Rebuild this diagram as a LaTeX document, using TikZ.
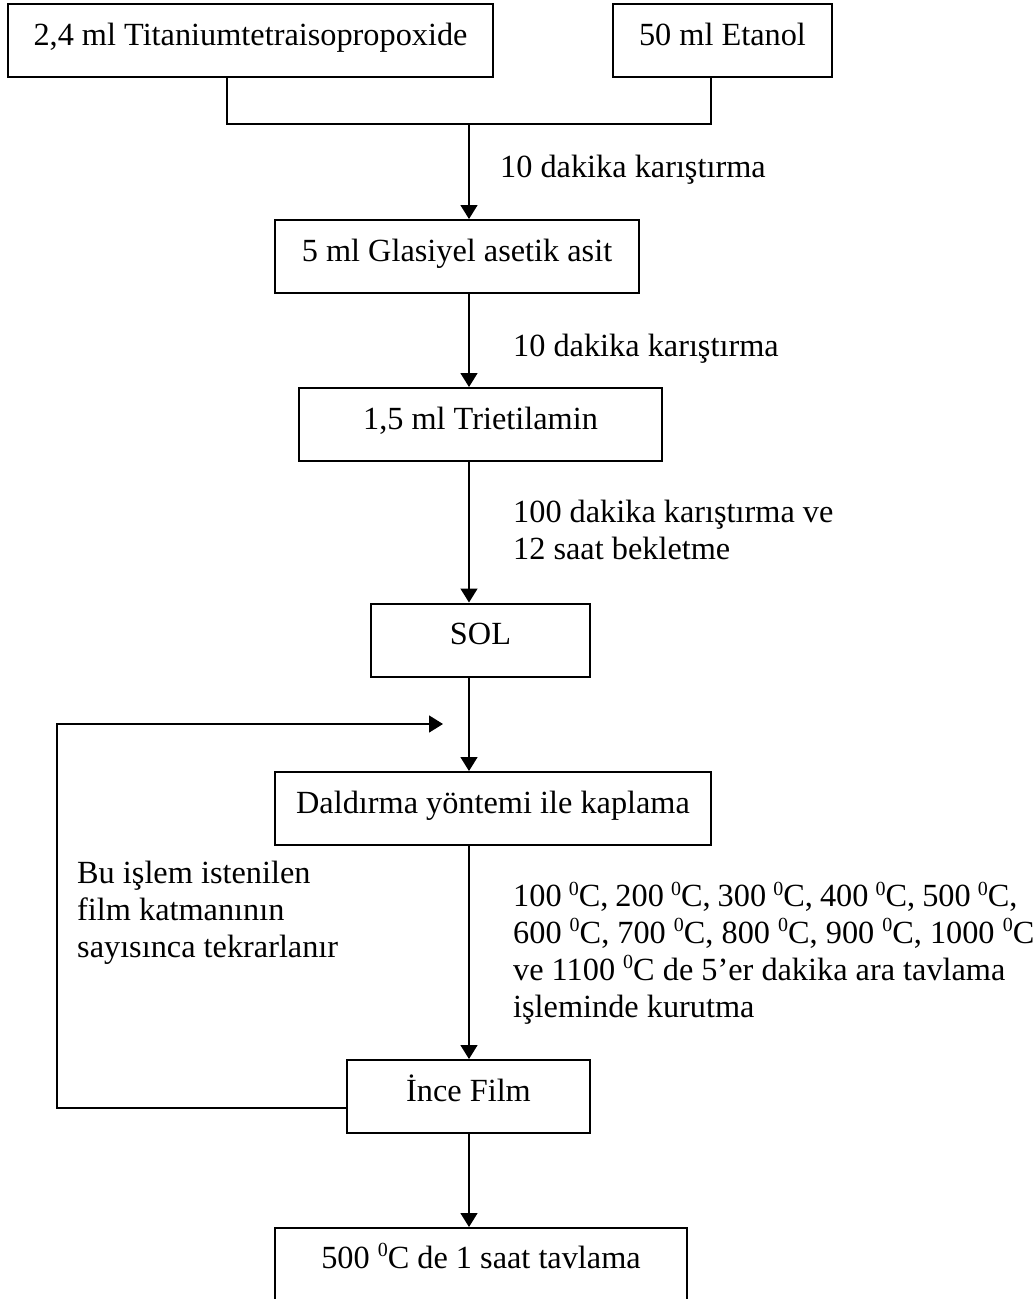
\documentclass[tikz,border=0pt]{standalone}
\usepackage{fontspec}
\setmainfont{Liberation Serif}
\usetikzlibrary{arrows.meta}
\newcommand{\dgc}{\raisebox{0.36em}{\fontsize{20pt}{20pt}\selectfont 0}C}
\tikzset{
  box/.style={draw, line width=2pt, inner sep=0pt, minimum height=73pt,
              text height=22pt, text depth=13pt},
  finbox/.style={box, minimum height=100pt, text height=22pt, text depth=42pt},
  lbl/.style={anchor=base west, align=left, inner sep=0pt},
  conn/.style={line width=1.5pt},
  arr/.style={conn, -{Triangle[length=14pt,width=17pt]}}
}
\begin{document}
\begin{tikzpicture}[x=1pt, y=-1pt, font=\fontsize{32.3pt}{36.7pt}\selectfont]
\useasboundingbox (0,0) rectangle (1036,1299);
\clip (0,0) rectangle (1036,1299);
% boxes
\node[box, minimum width=485pt] (b1) at (250.5,40.5) {2,4 ml Titaniumtetraisopropoxide};
\node[box, minimum width=219pt] (b2) at (722.5,40.5) {50 ml Etanol};
\node[box, minimum width=364pt] (b3) at (457,256.5) {5 ml Glasiyel asetik asit};
\node[box, minimum width=363pt] (b4) at (480.5,424.5) {1,5 ml Trietilamin};
\node[box, minimum width=219pt] (sol) at (480.5,640) {SOL};
\node[box, minimum width=436pt] (dal) at (493,808.5) {Daldırma yöntemi ile kaplama};
\node[box, minimum width=243pt] (ince) at (468.5,1096.5) {İnce Film};
\node[finbox, minimum width=412pt] (fin) at (481,1278) {500 \dgc{} de 1 saat tavlama};
% junction coordinates
\coordinate (j1) at (227,124);
\coordinate (j2) at (711,124);
\coordinate (jm) at (469,124);
\coordinate (fb1) at (57,1108);
\coordinate (fb2) at (57,724);
\coordinate (fb3) at (443,724);
% connectors
\draw[conn] (b1.south -| j1) -- (j1) -- (j2) -- (b2.south -| j2);
\draw[arr] (jm) -- (b3.north -| jm);
\draw[arr] (b3.south -| jm) -- (b4.north -| jm);
\draw[arr] (b4.south -| jm) -- (sol.north -| jm);
\draw[arr] (sol.south -| jm) -- (dal.north -| jm);
\draw[arr] (dal.south -| jm) -- (ince.north -| jm);
\draw[arr] (ince.south -| jm) -- (fin.north -| jm);
\draw[arr] (ince.west |- fb1) -- (fb1) -- (fb2) -- (fb3);
% labels (base anchor = baseline of last line)
\node[lbl] (l1) at (500,177) {10 dakika karıştırma};
\node[lbl] (l2) at (513,356) {10 dakika karıştırma};
\node[lbl] (l3) at (513,559) {100 dakika karıştırma ve\\12 saat bekletme};
\node[lbl] (l4) at (77,957) {Bu işlem istenilen\\film katmanının\\sayısınca tekrarlanır};
\node[lbl] (l5) at (513,1017) {\spaceskip=0.22em plus 0.1em
  100 \dgc, 200 \dgc, 300 \dgc, 400 \dgc, 500 \dgc,\\600 \dgc, 700 \dgc, 800 \dgc, 900 \dgc, 1000 \dgc\\ve 1100 \dgc{} de 5’er dakika ara tavlama\\işleminde kurutma};
\end{tikzpicture}
\end{document}
